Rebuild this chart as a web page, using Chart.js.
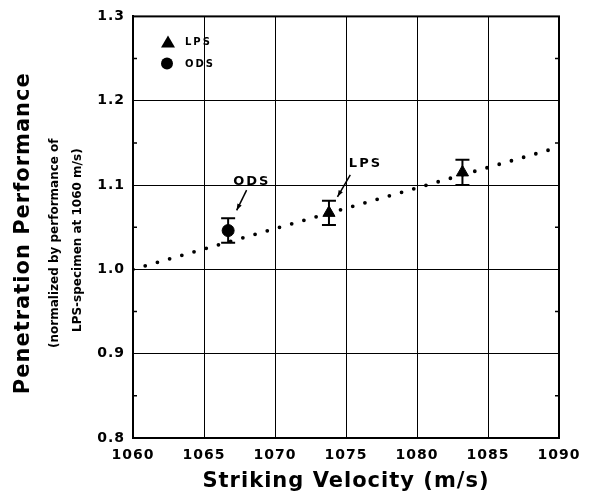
<!DOCTYPE html>
<html>
<head>
<meta charset="utf-8">
<script src="https://cdn.jsdelivr.net/npm/chart.js@4.4.1/dist/chart.umd.min.js"></script>
<style>
  html, body { margin: 0; padding: 0; background: #fff; }
  #wrap { width: 590px; height: 498px; }
</style>
</head>
<body>
<div id="wrap"><canvas id="myChart"></canvas></div>
<script>
// values
const lpsVelocity = [1073.8, 1083.2];
const lpsPerf = [1.067, 1.115];
const lpsErr = [0.0145, 0.015];

const odsVelocity = [1066.7];
const odsPerf = [1.046];
const odsErr = [0.0145];

const fitVelocity = [1060, 1090];
const fitPerf = [1.0, 1.145];

const seriesNames = ['LPS', 'ODS'];

const FONT = 'DejaVu Sans';

const toPoints = (xs, ys) => xs.map((x, i) => ({ x: x, y: ys[i] }));

const data = {
    datasets: [{
        label: seriesNames[0],
        type: 'scatter',
        data: toPoints(lpsVelocity, lpsPerf),
        errors: lpsErr,
        pointStyle: 'triangle',
        pointRadius: 7,
        backgroundColor: '#000',
        borderColor: '#000',
        borderWidth: 1
    }, {
        label: seriesNames[1],
        type: 'scatter',
        data: toPoints(odsVelocity, odsPerf),
        errors: odsErr,
        pointStyle: 'circle',
        pointRadius: 6,
        backgroundColor: '#000',
        borderColor: '#000',
        borderWidth: 1
    }, {
        label: 'fit',
        type: 'line',
        data: toPoints(fitVelocity, fitPerf),
        borderColor: '#000',
        borderWidth: 3.8,
        borderDash: [0, 12.7],
        borderCapStyle: 'round',
        pointRadius: 0,
        fill: false
    }]
};

// error bars, legend, labels and the frame
const extras = {
    id: 'extras',
    beforeDraw(chart) {
        chart.ctx.letterSpacing = '1px';
    },
    afterDatasetsDraw(chart) {
        const ctx = chart.ctx;
        const xs = chart.scales.x, ys = chart.scales.y;
        const area = chart.chartArea;

        ctx.save();
        ctx.strokeStyle = '#000';
        ctx.fillStyle = '#000';

        // error bars
        ctx.lineWidth = 2;
        chart.data.datasets.forEach((ds, i) => {
            if (!ds.errors) return;
            chart.getDatasetMeta(i).data.forEach((pt, j) => {
                const v = ds.data[j].y, e = ds.errors[j];
                const top = ys.getPixelForValue(v + e);
                const bot = ys.getPixelForValue(v - e);
                ctx.beginPath();
                ctx.moveTo(pt.x, top); ctx.lineTo(pt.x, bot);
                ctx.moveTo(pt.x - 7, top); ctx.lineTo(pt.x + 7, top);
                ctx.moveTo(pt.x - 7, bot); ctx.lineTo(pt.x + 7, bot);
                ctx.stroke();
            });
        });

        // minor ticks on left and right axes
        ctx.lineWidth = 1.5;
        for (let v = 0.85; v < 1.3; v += 0.1) {
            const y = ys.getPixelForValue(v);
            ctx.beginPath();
            ctx.moveTo(area.left, y); ctx.lineTo(area.left + 4, y);
            ctx.moveTo(area.right, y); ctx.lineTo(area.right - 4, y);
            ctx.stroke();
        }

        // frame
        ctx.lineWidth = 2;
        ctx.strokeRect(area.left, area.top, area.right - area.left, area.bottom - area.top);

        // legend in the upper-left corner
        const lx = area.left + 35;
        ctx.beginPath();
        ctx.moveTo(lx, area.top + 19);
        ctx.lineTo(lx + 7, area.top + 31);
        ctx.lineTo(lx - 7, area.top + 31);
        ctx.closePath();
        ctx.fill();
        ctx.beginPath();
        ctx.arc(lx - 1, area.top + 47, 6, 0, Math.PI * 2);
        ctx.fill();
        ctx.letterSpacing = '2px';
        ctx.font = 'bold 10px "' + FONT + '"';
        ctx.textBaseline = 'middle';
        ctx.textAlign = 'left';
        ctx.fillText(seriesNames[0], area.left + 52, area.top + 26);
        ctx.fillText(seriesNames[1], area.left + 52, area.top + 48);

        // callout labels with arrows
        const callouts = [
            { text: 'ODS', tx: 1068.3, ty: 1.1045, from: [1068.0, 1.094], to: [1067.3, 1.070] },
            { text: 'LPS', tx: 1076.3, ty: 1.125, from: [1075.3, 1.112], to: [1074.4, 1.086] }
        ];
        ctx.font = 'bold 13px "' + FONT + '"';
        ctx.textAlign = 'center';
        ctx.lineWidth = 1.5;
        callouts.forEach(c => {
            ctx.fillText(c.text, xs.getPixelForValue(c.tx) + 1, ys.getPixelForValue(c.ty));
            const x1 = xs.getPixelForValue(c.from[0]), y1 = ys.getPixelForValue(c.from[1]);
            const x2 = xs.getPixelForValue(c.to[0]), y2 = ys.getPixelForValue(c.to[1]);
            ctx.beginPath();
            ctx.moveTo(x1, y1); ctx.lineTo(x2, y2);
            ctx.stroke();
            const a = Math.atan2(y2 - y1, x2 - x1);
            ctx.beginPath();
            ctx.moveTo(x2, y2);
            ctx.lineTo(x2 - 7 * Math.cos(a - 0.35), y2 - 7 * Math.sin(a - 0.35));
            ctx.lineTo(x2 - 7 * Math.cos(a + 0.35), y2 - 7 * Math.sin(a + 0.35));
            ctx.closePath();
            ctx.fill();
        });

        // y axis title (three lines, rotated)
        const cy = (area.top + area.bottom) / 2;
        const rot = (text, x, y, font, spacing) => {
            ctx.save();
            ctx.translate(x, y);
            ctx.rotate(-Math.PI / 2);
            ctx.font = font;
            ctx.letterSpacing = spacing;
            ctx.textAlign = 'center';
            ctx.textBaseline = 'middle';
            ctx.fillText(text, 0, 0);
            ctx.restore();
        };
        rot('Penetration Performance', 24, cy + 6, 'bold 21px "' + FONT + '"', '1px');
        rot('(normalized by performance of', 55, cy + 16, 'bold 12px "' + FONT + '"', '0px');
        rot('LPS-specimen at 1060 m/s)', 78, cy + 13, 'bold 12px "' + FONT + '"', '0px');

        ctx.restore();
    }
};

const config = {
    data,
    options: {
        responsive: true,
        maintainAspectRatio: false,
        animation: false,
        devicePixelRatio: 1,
        layout: {
            padding: { left: 93, top: 16, right: 31, bottom: 0 }
        },
        scales: {
            x: {
                type: 'linear',
                min: 1060,
                max: 1090,
                ticks: {
                    stepSize: 5,
                    color: '#000',
                    padding: 9,
                    font: { family: FONT, size: 14, weight: 'bold' },
                    callback: (v) => String(v)
                },
                grid: { color: '#000', lineWidth: 1, drawTicks: false },
                border: { color: '#000', width: 2 },
                title: {
                    display: true,
                    text: 'Striking Velocity (m/s)',
                    color: '#000',
                    font: { family: FONT, size: 21, weight: 'bold' },
                    padding: { top: 4, bottom: 4 }
                },
                afterFit(scale) { scale.height = 60; }
            },
            y: {
                min: 0.8,
                max: 1.3,
                ticks: {
                    stepSize: 0.1,
                    color: '#000',
                    padding: 8,
                    font: { family: FONT, size: 14, weight: 'bold' },
                    callback: (v) => v.toFixed(1)
                },
                grid: { color: '#000', lineWidth: 1, drawTicks: false },
                border: { color: '#000', width: 2 },
                afterFit(scale) { scale.width = 40; }
            }
        },
        plugins: {
            legend: { display: false },
            tooltip: { enabled: false }
        }
    },
    plugins: [extras]
};

const myChart = new Chart(
    document.getElementById('myChart').getContext('2d'),
    config
);
</script>
</body>
</html>
